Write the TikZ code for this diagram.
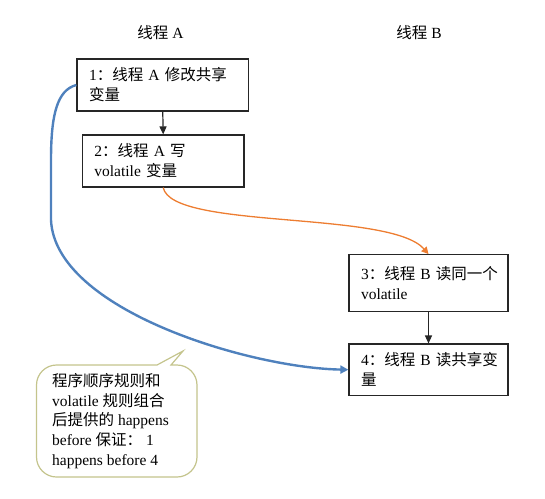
\documentclass[tikz,border=0pt]{standalone}
\usepackage{fontspec}
\setmainfont{Liberation Serif}
\newfontfamily\cjk{Noto Sans CJK SC}
\usepackage{tikz}
\usetikzlibrary{arrows.meta}

\definecolor{lineblue}{RGB}{79,129,189}
\definecolor{lineorange}{RGB}{237,125,49}
\definecolor{noteborder}{RGB}{196,196,140}

\begin{document}
\begin{tikzpicture}[x=1pt, y=-1pt,
    txt/.style={font=\fontsize{15.5}{20}\selectfont},
    stepbox/.style={txt, draw=black!85, line width=1.2pt, align=left,
        inner xsep=12, minimum height=52, text width=#1},
    flow/.style={draw=black!85, line width=1.2pt, -{Triangle[length=8,width=7]}},
    orangeflow/.style={draw=lineorange, line width=1.3pt, -{Triangle[length=7,width=7]}},
    blueflow/.style={draw=lineblue, line width=2.4pt, -{Triangle[length=8,width=8]}}]
    \useasboundingbox (0,0) rectangle (545,498);

    % 线程标题
    \node[txt] (ta) at (160.5,33) {{\cjk 线程}~A};
    \node[txt] (tb) at (419,33) {{\cjk 线程}~B};

    % 线程 A 的两步
    \node[stepbox=147.5] (s1) at (162.75,85) {1{\cjk ：线程}~A~{\cjk 修改共享}\\{\cjk 变量}};
    \node[stepbox=137.6] (s2) at (163.2,161) {2{\cjk ：线程}~A~{\cjk 写}\\volatile~{\cjk 变量}};

    % 线程 B 的两步
    \node[stepbox=135, minimum height=57] (s3) at (428.5,283.2) {3{\cjk ：线程}~B~{\cjk 读同一个}\\volatile};
    \node[stepbox=135, minimum height=51.3] (s4) at (428.5,369.7) {4{\cjk ：线程}~B~{\cjk 读共享变}\\{\cjk 量}};

    % 箭头
    \draw[flow] (s1.south) -- (s2.north);
    \draw[flow] (s3) -- (s4);
    \draw[orangeflow] (s2.south) .. controls (172,230) and (390,210) .. (s3.north);
    \draw[blueflow] (s1.west) .. controls (57,90) and (51,115) .. (51,160) -- (51,220)
        .. controls (55,310) and (250,368) .. (s4.west);

    % 说明气泡
    \draw[noteborder, line width=1.2pt, fill=white] (183,351) -- (157,365) -- (56.5,365)
        .. controls (45.5,365) and (36.5,374) .. (36.5,385) -- (36.5,457)
        .. controls (36.5,468) and (45.5,477) .. (56.5,477) -- (177,477)
        .. controls (188,477) and (197,468) .. (197,457) -- (197,385)
        .. controls (197,374) and (188,365) .. (177,365) -- (171,365) -- cycle;
    \node[font=\fontsize{15.5}{19.75}\selectfont, align=left, anchor=west, inner sep=0] (note) at (52,421)
        {{\cjk 程序顺序规则和}\\volatile~{\cjk 规则组合}\\{\cjk 后提供的}~happens\\before~{\cjk 保证：}~1\\happens~before~4};

\end{tikzpicture}
\end{document}
